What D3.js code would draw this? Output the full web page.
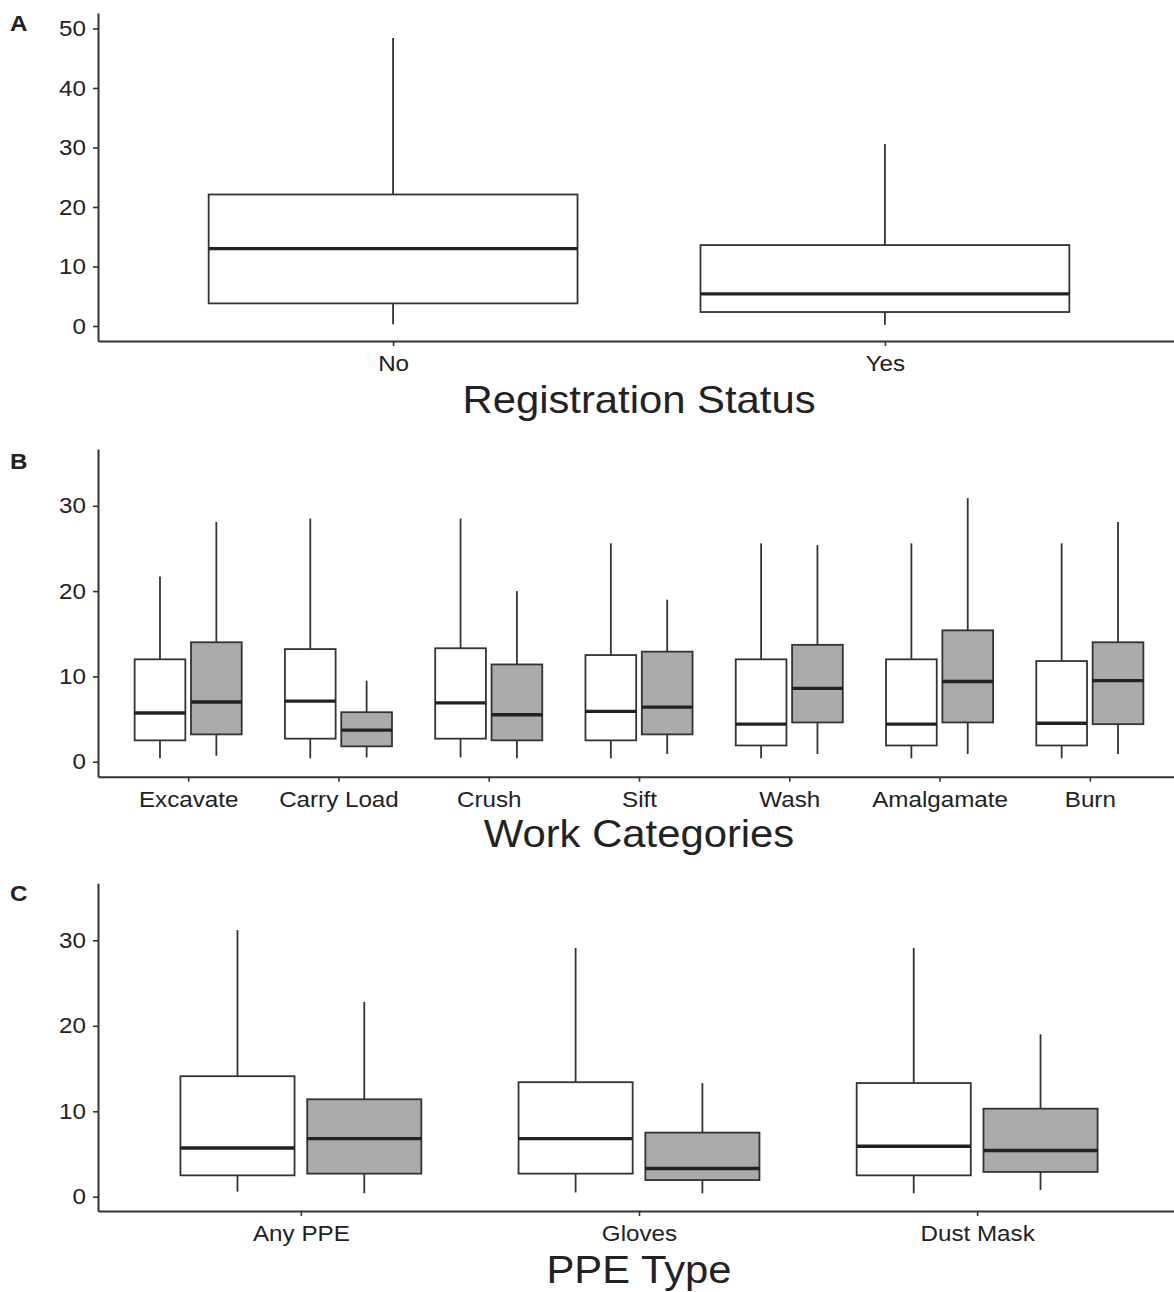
<!DOCTYPE html>
<html>
<head>
<meta charset="utf-8">
<title>Boxplots by registration, work and PPE</title>
<style>
  body { margin: 0; background: #fff; }
  svg text { font-family: "Liberation Sans", Arial, sans-serif; fill: #222; }
  .tick text { font-size: 22px; }
  .axis path.domain { stroke: #333; stroke-width: 2px; }
  .axis .tick line { stroke: #333; stroke-width: 1.6px; }
  .box { stroke: #333; stroke-width: 1.8px; }
  .whisker { stroke: #333; stroke-width: 1.8px; }
  .median { stroke: #222; stroke-width: 3.4px; }
  .title { font-size: 38px; }
  .panel-label { font-size: 22px; font-weight: bold; }
</style>
</head>
<body>
<svg id="chart" width="1174" height="1292"></svg>
<script src="https://cdn.jsdelivr.net/npm/d3@7"></script>
<script>
// each box is [min, q1, median, q3, max]
const regCategories = ['No', 'Yes'];
const regStats = [[0.3, 3.8, 13.0, 22.1, 48.4], [0.2, 2.35, 5.4, 13.6, 30.6]];
const regTicks = [0, 10, 20, 30, 40, 50];

const workCategories = ['Excavate', 'Carry Load', 'Crush', 'Sift', 'Wash', 'Amalgamate', 'Burn'];
const workStatsNo = [
  [0.4, 2.5, 5.7, 12.0, 21.7],
  [0.4, 2.7, 7.1, 13.2, 28.5],
  [0.5, 2.7, 6.9, 13.3, 28.5],
  [0.4, 2.5, 5.9, 12.5, 25.6],
  [0.4, 1.9, 4.4, 12.0, 25.6],
  [0.4, 1.9, 4.4, 12.0, 25.6],
  [0.4, 1.9, 4.5, 11.8, 25.6]
];
const workStatsYes = [
  [0.7, 3.2, 7.0, 14.0, 28.1],
  [0.5, 1.8, 3.7, 5.8, 9.5],
  [0.4, 2.5, 5.5, 11.4, 20.0],
  [0.9, 3.2, 6.4, 12.9, 19.0],
  [0.9, 4.6, 8.6, 13.7, 25.4],
  [0.9, 4.6, 9.4, 15.4, 30.9],
  [0.9, 4.4, 9.5, 14.0, 28.1]
];
const workTicks = [0, 10, 20, 30];

const ppeCategories = ['Any PPE', 'Gloves', 'Dust Mask'];
const ppeStatsNo = [[0.6, 2.5, 5.7, 14.1, 31.2], [0.5, 2.7, 6.8, 13.4, 29.1], [0.4, 2.5, 5.9, 13.3, 29.1]];
const ppeStatsYes = [[0.4, 2.7, 6.8, 11.4, 22.8], [0.4, 1.95, 3.3, 7.5, 13.3], [0.8, 2.9, 5.4, 10.3, 19.0]];
const ppeTicks = [0, 10, 20, 30];

const svg = d3.select('#chart');
const sx = 1.1; // figure text is a little stretched horizontally
const left = 98, right = 1180;

function stretch(sel) {
  sel.each(function() {
    const t = d3.select(this);
    const x = +t.attr('x') || 0;
    t.attr('x', x / sx).attr('transform', `scale(${sx},1)`);
  });
}

function drawPanel(p) {
  const g = svg.append('g');
  const x = d3.scalePoint().domain(p.categories).range([left, right]).padding(0.6);
  const y = d3.scaleLinear().domain(p.yDomain).range([p.yBottom, p.yTop]);
  const step = x.step();
  const n = p.series.length;
  const slot = 0.75 * step / n;
  const boxW = n > 1 ? slot * 0.9 : slot;

  p.series.forEach((s, i) => {
    const off = (i - (n - 1) / 2) * slot;
    const grp = g.append('g').selectAll('g').data(s.stats).join('g')
      .attr('transform', (d, j) => `translate(${x(p.categories[j]) + off},0)`);
    grp.append('line').attr('class', 'whisker')
      .attr('y1', d => y(d[4])).attr('y2', d => y(d[3]));
    grp.append('line').attr('class', 'whisker')
      .attr('y1', d => y(d[1])).attr('y2', d => y(d[0]));
    grp.append('rect').attr('class', 'box')
      .attr('x', -boxW / 2).attr('width', boxW)
      .attr('y', d => y(d[3])).attr('height', d => y(d[1]) - y(d[3]))
      .attr('fill', s.fill);
    grp.append('line').attr('class', 'median')
      .attr('x1', -boxW / 2).attr('x2', boxW / 2)
      .attr('y1', d => y(d[2])).attr('y2', d => y(d[2]));
  });

  const yAxis = g.append('g').attr('class', 'axis')
    .attr('transform', `translate(${left},0)`)
    .call(d3.axisLeft(y).tickValues(p.ticks).tickSize(5).tickSizeOuter(0).tickPadding(7));
  yAxis.attr('font-size', null).attr('font-family', null);
  stretch(yAxis.selectAll('text'));

  const xAxis = g.append('g').attr('class', 'axis')
    .attr('transform', `translate(0,${p.yBottom})`)
    .call(d3.axisBottom(x).tickSize(5).tickSizeOuter(0));
  xAxis.attr('font-size', null).attr('font-family', null);
  xAxis.selectAll('text').attr('dy', null).attr('y', 30);
  stretch(xAxis.selectAll('text'));

  g.append('text').attr('class', 'title')
    .attr('text-anchor', 'middle')
    .attr('transform', `translate(${(left + right) / 2},${p.titleY}) scale(${sx},1)`)
    .text(p.title);

  g.append('text').attr('class', 'panel-label')
    .attr('transform', `translate(10,${p.labelY}) scale(${sx},1)`)
    .text(p.label);
}

drawPanel({
  label: 'A', labelY: 31,
  categories: regCategories,
  series: [{ stats: regStats, fill: '#ffffff' }],
  ticks: regTicks, yDomain: [-2.52, 52.6], yTop: 13, yBottom: 341,
  title: 'Registration Status', titleY: 413
});

drawPanel({
  label: 'B', labelY: 469,
  categories: workCategories,
  series: [{ stats: workStatsNo, fill: '#ffffff' }, { stats: workStatsYes, fill: '#ababab' }],
  ticks: workTicks, yDomain: [-1.76, 36.66], yTop: 449, yBottom: 776.7,
  title: 'Work Categories', titleY: 847
});

drawPanel({
  label: 'C', labelY: 901,
  categories: ppeCategories,
  series: [{ stats: ppeStatsNo, fill: '#ffffff' }, { stats: ppeStatsYes, fill: '#ababab' }],
  ticks: ppeTicks, yDomain: [-1.67, 36.67], yTop: 883.3, yBottom: 1211,
  title: 'PPE Type', titleY: 1283
});
</script>
</body>
</html>
